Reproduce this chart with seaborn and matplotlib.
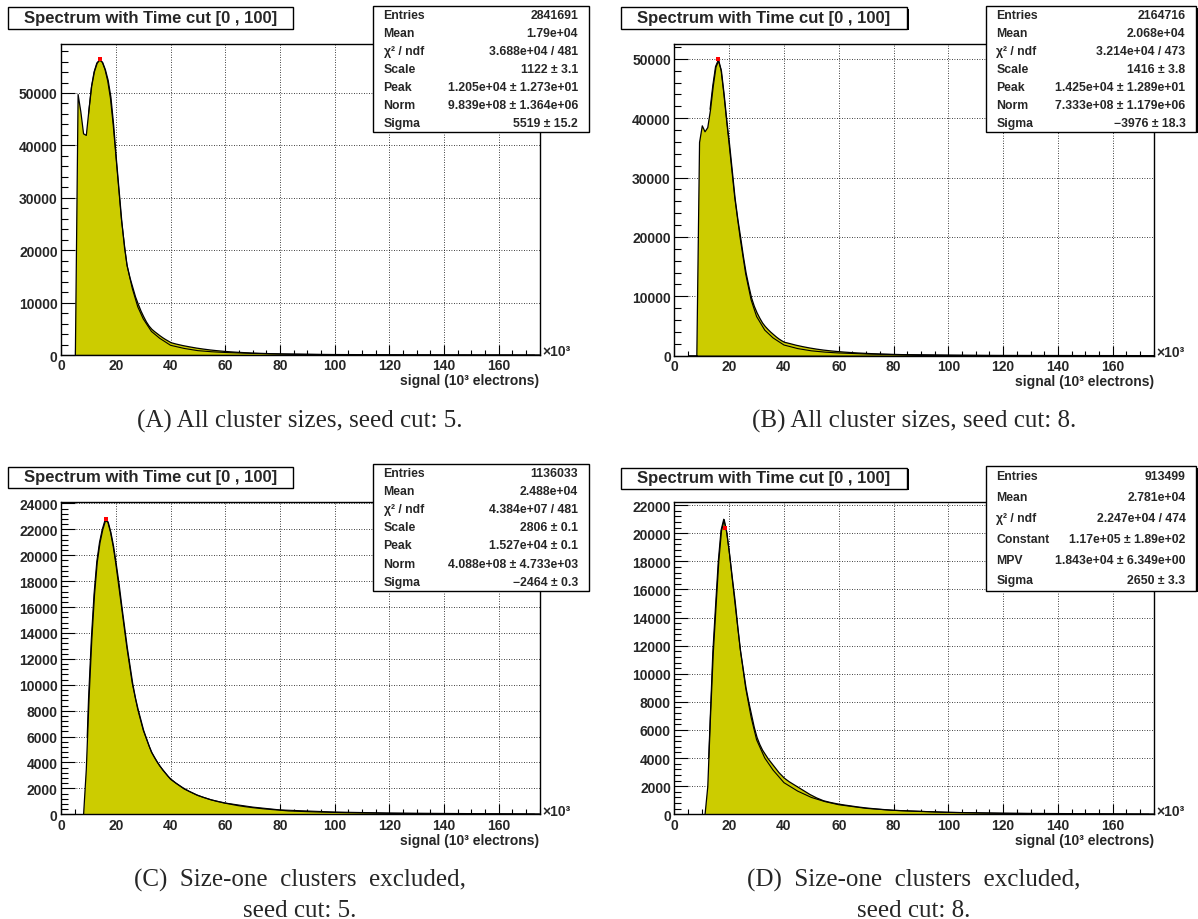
import numpy as np
import pandas as pd
import matplotlib
matplotlib.use("Agg")
import matplotlib.pyplot as plt
from matplotlib.patches import Rectangle
from matplotlib.ticker import MultipleLocator, FuncFormatter
import seaborn as sns

# ---------------------------------------------------------------------------
# Binning of the signal axis (units of 10^3 electrons)
# ---------------------------------------------------------------------------
BIN_EDGES = np.concatenate([
    np.arange(4.5, 40.6, 1.0),     # fine bins through the peak
    np.arange(43.0, 80.6, 2.5),    # medium bins in the near tail
    np.arange(85.5, 175.6, 5.0),   # coarse bins in the far tail
])
BIN_CENTERS = 0.5 * (BIN_EDGES[:-1] + BIN_EDGES[1:])

# ---------------------------------------------------------------------------
# Histogram contents per bin
# ---------------------------------------------------------------------------
# (A) all cluster sizes, seed cut 5
A_COUNTS = [
    0, 49800, 46500, 42300, 42000, 47000, 51500, 54200, 55800, 56400,
    55900, 54500, 52500, 49300, 44000, 37500, 31500, 25500, 20500, 17000,
    14800, 13000, 11200, 9800, 8500, 7400, 6400, 5600, 5000, 4550,
    4150, 3750, 3380, 3050, 2750, 2450,
    2200, 1900, 1650, 1420, 1230, 1060, 920, 800, 700, 615, 545, 485, 430, 385, 345, 310,
    260, 215, 180, 152, 130, 112, 97, 85, 75, 67, 60, 54, 49, 44, 40, 37, 34, 31, 29,
]
# (B) all cluster sizes, seed cut 8
B_COUNTS = [
    0, 0, 0, 0, 36000, 38800, 37800, 38500, 41500, 45500,
    48700, 49800, 48000, 44000, 39500, 35500, 31000, 26500, 23000, 20000,
    16800, 14000, 11800, 9800, 8400, 7300, 6400, 5600, 5000, 4500,
    4050, 3650, 3250, 2900, 2600, 2350,
    2150, 1850, 1600, 1380, 1190, 1030, 900, 790, 695, 615, 545, 485, 430, 385, 345, 310,
    265, 220, 185, 156, 133, 115, 100, 88, 78, 69, 62, 56, 50, 45, 41, 37, 34, 31, 29,
]
# (C) size-one clusters excluded, seed cut 5
C_COUNTS = [
    0, 0, 0, 0, 3500, 9000, 13500, 17000, 19500, 21000,
    22000, 22700, 22600, 21800, 20700, 19300, 17800, 16100, 14500, 12900,
    11500, 10100, 9000, 8100, 7300, 6500, 5900, 5300, 4800, 4400,
    4050, 3750, 3450, 3200, 2950, 2750,
    2450, 2100, 1800, 1550, 1350, 1180, 1040, 920, 820, 720, 640, 570, 510, 455, 410, 370,
    300, 260, 225, 195, 170, 150, 132, 117, 104, 93, 83, 75, 67, 61, 55, 50, 45, 41, 37,
]
# (D) size-one clusters excluded, seed cut 8
D_COUNTS = [
    0, 0, 0, 0, 0, 0, 0, 2000, 7000, 11500,
    14800, 18000, 20200, 21000, 20000, 18500, 16800, 15200, 13300, 11600,
    10300, 9000, 8000, 7100, 6200, 5500, 5000, 4600, 4300, 4000,
    3750, 3500, 3250, 3000, 2800, 2600,
    2350, 2050, 1750, 1450, 1200, 1000, 880, 780, 700, 630, 560, 500, 450, 405, 365, 330,
    290, 250, 215, 185, 160, 140, 123, 108, 96, 86, 77, 69, 62, 56, 51, 46, 42, 38, 35,
]

# ---------------------------------------------------------------------------
# Fitted functions, sampled along the signal axis
# ---------------------------------------------------------------------------
A_FIT_X = [10, 11, 12, 13, 14, 15, 16, 17, 18, 19, 20, 22, 24, 26, 28, 30, 33, 36, 40,
           45, 50, 55, 60, 70, 80, 100, 120, 150, 175]
A_FIT_Y = [46000, 51000, 54000, 55700, 56300, 55900, 54500, 52300, 49000, 44000, 38000,
           26000, 17300, 12700, 9200, 6900, 4500, 3200, 1850, 1250, 830, 620, 480,
           300, 200, 100, 60, 35, 25]

B_FIT_X = [13, 14, 15, 16, 17, 18, 19, 20, 22, 24, 26, 28, 30, 33, 36, 40,
           45, 50, 55, 60, 70, 80, 100, 120, 150, 175]
B_FIT_Y = [41500, 45500, 48700, 49800, 48200, 44300, 39800, 35500, 26700, 19800, 13800,
           9400, 6600, 4300, 3000, 1800, 1200, 820, 600, 460, 290, 190, 100, 60, 35, 25]

C_FIT_X = [9.5, 10, 11, 12, 13, 14, 15, 16, 17, 18, 19, 20, 22, 24, 26, 28, 30, 33, 36,
           40, 45, 50, 55, 60, 70, 80, 100, 120, 150, 175]
C_FIT_Y = [6000, 9000, 13500, 17000, 19500, 21000, 22000, 22700, 22600, 21800, 20700,
           19300, 16100, 12900, 10100, 8100, 6500, 4800, 3750, 2700, 1950, 1450, 1110,
           870, 560, 340, 175, 100, 55, 35]

D_FIT_X = [12.5, 14, 15, 16, 17, 18, 19, 20, 22, 24, 26, 28, 30, 33, 36, 40,
           45, 50, 55, 60, 70, 80, 100, 120, 150, 175]
D_FIT_Y = [4000, 11500, 14800, 18000, 20200, 21000, 20200, 18700, 15200, 11800, 9000,
           6900, 5300, 4000, 3150, 2250, 1650, 1200, 900, 680, 420, 280, 140, 80, 45, 28]

# Maximum of each fitted curve (red marker)
A_MAX = (14.2, 56500)
B_MAX = (15.8, 50000)
C_MAX = (16.5, 22800)
D_MAX = (18.43, 20400)

# ---------------------------------------------------------------------------
# Statistics boxes
# ---------------------------------------------------------------------------
LANGAUS_LABELS = ["Entries", "Mean", "χ² / ndf", "Scale", "Peak", "Norm", "Sigma"]
LANDAU_LABELS = ["Entries", "Mean", "χ² / ndf", "Constant", "MPV", "Sigma"]
A_STATS = ["2841691", "1.79e+04", "3.688e+04 / 481", "1122 ± 3.1",
           "1.205e+04 ± 1.273e+01", "9.839e+08 ± 1.364e+06", "5519 ± 15.2"]
B_STATS = ["2164716", "2.068e+04", "3.214e+04 / 473", "1416 ± 3.8",
           "1.425e+04 ± 1.289e+01", "7.333e+08 ± 1.179e+06", "\u22123976 ± 18.3"]
C_STATS = ["1136033", "2.488e+04", "4.384e+07 / 481", "2806 ± 0.1",
           "1.527e+04 ± 0.1", "4.088e+08 ± 4.733e+03", "\u22122464 ± 0.3"]
D_STATS = ["913499", "2.781e+04", "2.247e+04 / 474", "1.17e+05 ± 1.89e+02",
           "1.843e+04 ± 6.349e+00", "2650 ± 3.3"]

TITLE = "Spectrum with Time cut [0 , 100]"
X_LABEL = "signal (10\u00b3 electrons)"
X_EXPONENT = "\u00d710\u00b3"
CAPTIONS = [
    ["(A) All cluster sizes, seed cut: 5."],
    ["(B) All cluster sizes, seed cut: 8."],
    ["(C)  Size-one  clusters  excluded,", "seed cut: 5."],
    ["(D)  Size-one  clusters  excluded,", "seed cut: 8."],
]

# ---------------------------------------------------------------------------
# Styling
# ---------------------------------------------------------------------------
sns.set_style("white")
plt.rcParams["font.family"] = ["Liberation Sans", "DejaVu Sans"]
plt.rcParams["font.weight"] = "bold"

FILL = "#cccc00"
W, H = 1198, 920


def fx(x):
    return x / W


def fy(y):
    return 1.0 - y / H


fig = plt.figure(figsize=(W / 100, H / 100), dpi=100)
fig.patch.set_facecolor("white")

# layout of each pad, in pixels
PADS = [
    dict(frame=(61.2, 45.0, 539.6, 356.0), ymax=59350, ymaj=10000,
         counts=A_COUNTS, fit=(A_FIT_X, A_FIT_Y), peak=A_MAX,
         labels=LANGAUS_LABELS, stats=A_STATS,
         title_box=(7.7, 8.3, 292.8, 29.5), stats_box=(373.0, 7.3, 588.6, 132.7),
         caption_y=[427.5], caption_x=300.0),
    dict(frame=(674.4, 45.0, 1153.8, 356.7), ymax=52500, ymaj=10000,
         counts=B_COUNTS, fit=(B_FIT_X, B_FIT_Y), peak=B_MAX,
         labels=LANGAUS_LABELS, stats=B_STATS,
         title_box=(621.0, 8.3, 907.0, 29.5), stats_box=(986.0, 7.3, 1196.0, 132.7),
         caption_y=[427.5], caption_x=914.0),
    dict(frame=(61.2, 503.3, 539.6, 815.3), ymax=24090, ymaj=2000,
         counts=C_COUNTS, fit=(C_FIT_X, C_FIT_Y), peak=C_MAX,
         labels=LANGAUS_LABELS, stats=C_STATS,
         title_box=(7.7, 467.5, 292.8, 488.5), stats_box=(373.0, 465.0, 588.6, 591.7),
         caption_y=[887.0, 917.0], caption_x=300.0),
    dict(frame=(674.4, 503.3, 1153.8, 815.3), ymax=22200, ymaj=2000,
         counts=D_COUNTS, fit=(D_FIT_X, D_FIT_Y), peak=D_MAX,
         labels=LANDAU_LABELS, stats=D_STATS,
         title_box=(621.0, 468.5, 907.0, 489.5), stats_box=(986.0, 467.0, 1196.0, 591.7),
         caption_y=[887.0, 917.0], caption_x=914.0),
]

for i, pad in enumerate(PADS):
    x0, y0, x1, y1 = pad["frame"]
    ax = fig.add_axes([fx(x0), fy(y1), (x1 - x0) / W, (y1 - y0) / H])
    ax.set_facecolor("white")

    # histogram, drawn as a filled outline through the bin contents
    hist_df = pd.DataFrame({"signal": BIN_CENTERS,
                            "entries": np.asarray(pad["counts"], dtype=float)})
    sns.histplot(data=hist_df, x="signal", weights="entries", bins=list(BIN_EDGES),
                 element="poly", fill=True, color=FILL, alpha=1.0,
                 edgecolor="black", linewidth=0.9, ax=ax, zorder=1)
    # fitted function
    fxs, fys = pad["fit"]
    fit_df = pd.DataFrame({"signal": fxs, "value": fys})
    sns.lineplot(data=fit_df, x="signal", y="value", color="black", linewidth=0.8,
                 ax=ax, zorder=2)
    # maximum marker
    peak_df = pd.DataFrame({"signal": [pad["peak"][0]], "value": [pad["peak"][1]]})
    sns.scatterplot(data=peak_df, x="signal", y="value", marker="s", color="red",
                    s=9, linewidth=0, ax=ax, zorder=3)

    ax.set_xlim(0, 175)
    ax.set_ylim(0, pad["ymax"])
    ax.set_xlabel("")
    ax.set_ylabel("")

    ax.xaxis.set_major_locator(MultipleLocator(20))
    ax.xaxis.set_minor_locator(MultipleLocator(5))
    ax.yaxis.set_major_locator(MultipleLocator(pad["ymaj"]))
    ax.yaxis.set_minor_locator(MultipleLocator(pad["ymaj"] / 5))
    ax.yaxis.set_major_formatter(FuncFormatter(lambda v, p: f"{int(round(v))}"))
    ax.xaxis.set_major_formatter(FuncFormatter(lambda v, p: f"{int(round(v))}"))

    ax.tick_params(axis="both", which="both", direction="in", bottom=True, left=True,
                   top=False, right=False, color="black", width=0.8, labelsize=10)
    ax.tick_params(axis="x", which="major", length=7.2, pad=2.5)
    ax.tick_params(axis="x", which="minor", length=3.6)
    ax.tick_params(axis="y", which="major", length=10.0, pad=2.5)
    ax.tick_params(axis="y", which="minor", length=5.0)
    for lab in ax.get_xticklabels() + ax.get_yticklabels():
        lab.set_fontweight("bold")

    for sp in ax.spines.values():
        sp.set_visible(True)
        sp.set_color("black")
        sp.set_linewidth(1.0)

    # dotted grid beneath the histogram
    ax.grid(False)
    for v in np.arange(20, 175, 20):
        ax.axvline(v, color="black", linestyle=(0, (1, 2)), linewidth=0.6, zorder=0.5)
    for v in np.arange(pad["ymaj"], pad["ymax"], pad["ymaj"]):
        ax.axhline(v, color="black", linestyle=(0, (1, 2)), linewidth=0.6, zorder=0.5)

    # axis title and exponent
    fig.text(fx(x1), fy(y1 + 25.5), X_LABEL, ha="right", va="center",
             fontsize=10, fontweight="bold")
    fig.text(fx(x1 + 2.5), fy(y1 - 3.5), X_EXPONENT, ha="left", va="center",
             fontsize=10, fontweight="bold")

    # title box with shadow
    tx0, ty0, tx1, ty1 = pad["title_box"]
    fig.patches.append(Rectangle((fx(tx0 + 1.5), fy(ty1 + 1.5)), (tx1 - tx0) / W,
                                 (ty1 - ty0) / H, transform=fig.transFigure,
                                 facecolor="black", edgecolor="none", zorder=4))
    fig.patches.append(Rectangle((fx(tx0), fy(ty1)), (tx1 - tx0) / W, (ty1 - ty0) / H,
                                 transform=fig.transFigure, facecolor="white",
                                 edgecolor="black", linewidth=1.0, zorder=5))
    fig.text(fx(0.5 * (tx0 + tx1)), fy(0.5 * (ty0 + ty1)), TITLE, ha="center",
             va="center", fontsize=12, fontweight="bold", zorder=6)

    # statistics box with shadow
    sx0, sy0, sx1, sy1 = pad["stats_box"]
    fig.patches.append(Rectangle((fx(sx0 + 1.5), fy(sy1 + 1.5)), (sx1 - sx0) / W,
                                 (sy1 - sy0) / H, transform=fig.transFigure,
                                 facecolor="black", edgecolor="none", zorder=4))
    fig.patches.append(Rectangle((fx(sx0), fy(sy1)), (sx1 - sx0) / W, (sy1 - sy0) / H,
                                 transform=fig.transFigure, facecolor="white",
                                 edgecolor="black", linewidth=1.0, zorder=5))
    n = len(pad["labels"])
    row_h = (sy1 - sy0) / n
    for k, (lab, val) in enumerate(zip(pad["labels"], pad["stats"])):
        yy = sy0 + (k + 0.5) * row_h
        fig.text(fx(sx0 + 10.5), fy(yy), lab, ha="left", va="center",
                 fontsize=8.8, fontweight="bold", zorder=6)
        fig.text(fx(sx1 - 10.5), fy(yy), val, ha="right", va="center",
                 fontsize=8.8, fontweight="bold", zorder=6)

    # caption
    for line, cy in zip(CAPTIONS[i], pad["caption_y"]):
        fig.text(fx(pad["caption_x"]), fy(cy), line, ha="center", va="baseline",
                 fontsize=18, fontweight="normal", family=["Liberation Serif"])

fig.savefig("out.png", dpi=100, facecolor="white")
